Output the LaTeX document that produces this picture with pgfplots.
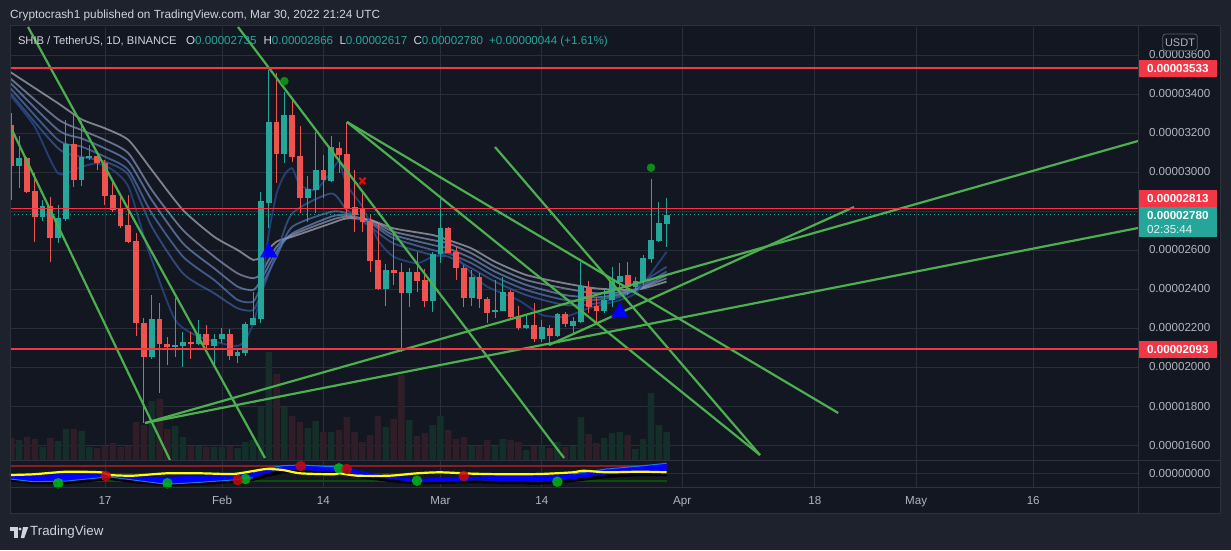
\documentclass[border=0pt]{standalone}
\usepackage{fontspec}
\setmainfont{Liberation Sans}
\usepackage{pgfplots}
\pgfplotsset{compat=1.18}
\usepackage{pgfplotstable}
\usetikzlibrary{plotmarks}

\definecolor{panebg}{HTML}{131722}
\definecolor{outerbg}{HTML}{1E222D}
\definecolor{gridc}{HTML}{2A2E39}
\definecolor{sepc}{HTML}{2E323D}
\definecolor{upc}{HTML}{26A69A}
\definecolor{dnc}{HTML}{EF5350}
\definecolor{trend}{HTML}{4CAF50}
\definecolor{lvl}{HTML}{F23645}
\definecolor{lblc}{HTML}{B2B5BE}
\definecolor{hdrc}{HTML}{D1D4DC}
\definecolor{volup}{HTML}{142F29}
\definecolor{voldn}{HTML}{2F1E28}
\definecolor{rA}{HTML}{B8BCC6}
\definecolor{rB}{HTML}{94A4C6}
\definecolor{rC}{HTML}{7694C8}
\definecolor{rD}{HTML}{5A7FC0}
\definecolor{rE}{HTML}{3E66AC}
\definecolor{rF}{HTML}{27498C}
\definecolor{gdot}{HTML}{0E8A16}
\definecolor{indred}{HTML}{8B1C24}
\definecolor{indgrn}{HTML}{0B4D0B}
\definecolor{indblue}{HTML}{0000FF}
\definecolor{indlb}{HTML}{2196F3}
\definecolor{indyel}{HTML}{FFFF00}
\definecolor{dotg}{HTML}{00B814}
\definecolor{dotr}{HTML}{C80A0A}

\newcommand{\lbfont}{\fontsize{11.6}{13}\selectfont}

% candles: d o h l c
\pgfplotstableread{
d o h l c
5 3031 3184 2916 3070
8 2771 2856 2750 2825
10 2663 2830 2634 2762
11 2757 3266 2750 3143
13 2959 3261 2928 3077
14 3073 3138 3061 3082
22 2053 2369 2040 2246
25 2101 2352 2053 2113
26 2109 2181 1998 2126
28 2118 2241 2113 2169
30 2109 2169 2010 2143
31 2143 2198 2121 2169
33 2056 2087 2019 2077
34 2073 2233 2056 2219
35 2215 2386 2215 2250
36 2246 2895 2224 2851
37 2843 3523 2711 3258
39 3092 3412 3044 3292
42 2868 2979 2745 2913
43 2907 3207 2788 3010
45 2955 3184 2950 3126
52 2400 2528 2315 2497
55 2381 2506 2306 2487
58 2340 2591 2284 2579
59 2579 2860 2535 2714
63 2356 2497 2315 2463
66 2280 2446 2253 2292
67 2289 2460 2285 2383
70 2202 2267 2195 2215
72 2144 2241 2130 2203
74 2161 2275 2152 2270
76 2212 2258 2173 2238
77 2233 2540 2224 2415
80 2289 2395 2275 2344
81 2344 2515 2309 2441
82 2438 2532 2369 2467
84 2412 2463 2378 2441
85 2438 2574 2421 2557
86 2554 2964 2532 2651
87 2648 2848 2643 2740
88 2735 2866 2617 2780
}\upT

\pgfplotstableread{
d o h l c
4 3241 3301 2856 3031
6 3070 3078 2890 2899
7 2902 2993 2643 2771
9 2825 2873 2540 2663
12 3143 3292 2924 2959
15 3082 3095 3010 3044
16 3044 3061 2830 2878
17 2882 2960 2796 2805
18 2808 2882 2711 2724
19 2730 2882 2634 2643
20 2646 2685 2159 2224
21 2224 2253 1713 2053
23 2246 2326 1867 2118
24 2118 2155 2010 2101
27 2126 2181 2040 2118
29 2169 2215 2087 2113
32 2169 2193 2036 2056
38 3258 3506 2942 3092
40 3292 3369 3053 3078
41 3082 3236 2788 2868
44 3010 3087 2865 2959
46 3121 3155 2993 3087
47 3092 3258 2771 2814
48 2819 3010 2694 2780
49 2814 2891 2694 2745
50 2750 2779 2489 2544
51 2549 2732 2395 2400
53 2497 2689 2420 2484
54 2487 2532 2079 2381
56 2487 2591 2386 2443
57 2446 2501 2309 2340
60 2714 2720 2583 2586
61 2591 2617 2446 2506
62 2506 2523 2309 2356
64 2463 2480 2301 2349
65 2349 2360 2224 2279
68 2383 2395 2241 2258
69 2261 2313 2190 2202
71 2215 2327 2130 2144
73 2202 2215 2113 2161
75 2270 2284 2207 2221
78 2409 2443 2275 2309
79 2313 2352 2233 2287
83 2472 2540 2369 2412
}\dnT

% volume (pane units)
\pgfplotstableread{
d v
5 20
8 13
10 19
11 31
13 29
14 13
22 59
25 34
26 23
28 14
30 13
31 13
33 12
34 18
35 20
36 53
37 108
39 53
42 32
43 39
45 28
52 33
55 40
58 35
59 44
63 14
66 14
67 21
70 10
72 14
74 18
76 14
77 43
80 22
81 27
82 28
84 11
85 21
86 67
87 35
88 28
}\volUp

\pgfplotstableread{
d v
4 22
6 23
7 21
9 22
12 31
15 12
16 14
17 17
18 13
19 14
20 38
21 35
23 61
24 31
27 14
29 13
32 14
38 86
40 44
41 38
44 28
46 30
47 43
48 28
49 18
50 25
51 44
53 41
54 85
56 24
57 27
60 30
61 21
62 23
64 14
65 20
68 20
69 18
71 14
73 12
75 13
78 26
79 17
83 25
}\volDn

\pgfplotsset{candle/.style={forget plot, only marks, mark=*, mark size=0pt,
  mark options={draw=none, fill=none},
  error bars/y dir=both, error bars/y explicit, error bars/error mark=none}}

\begin{document}
\begin{tikzpicture}
% backgrounds
\fill[outerbg] (0pt,0pt) rectangle (1231pt,550pt);
\fill[panebg] (10pt,37pt) rectangle (1220pt,524pt);

% grid + price labels
\begin{axis}[at={(10pt,90pt)}, anchor=south west, width=1128pt, height=433pt, scale only axis,
  xmin=3.821, xmax=148.436, ymin=1523.1, ymax=3743.6,
  axis line style={draw=none}, tick style={draw=none}, major tick length=0pt,
  xtick={16,31,44,59,72,90,107,120,135}, xticklabels={},
  ytick={1600,1800,2000,2200,2400,2600,2800,3000,3200,3400,3600},
  yticklabels={0.00001600,0.00001800,0.00002000,0.00002200,0.00002400,0.00002600,,0.00003000,0.00003200,0.00003400,0.00003600},
  yticklabel pos=right,
  yticklabel style={anchor=west, xshift=7.5pt, text=lblc, font=\lbfont},
  xmajorgrids, ymajorgrids, grid style={draw=gridc, line width=0.9pt}]
\addplot[draw=none, forget plot] coordinates {(10,2000)};
\end{axis}

% volume
\begin{axis}[at={(10pt,90pt)}, anchor=south west, width=1128pt, height=433pt, scale only axis,
  xmin=3.821, xmax=148.436, ymin=0, ymax=433, hide axis]
\addplot[ybar, bar width=6.4pt, bar shift=0pt, fill=volup, draw=none] table[x=d,y=v]{\volUp};
\addplot[ybar, bar width=6.4pt, bar shift=0pt, fill=voldn, draw=none] table[x=d,y=v]{\volDn};
\end{axis}

% price pane
\begin{axis}[at={(10pt,90pt)}, anchor=south west, width=1128pt, height=433pt, scale only axis,
  xmin=3.821, xmax=148.436, ymin=1523.1, ymax=3743.6, hide axis, clip=true]
% EMA ribbon
\addplot[rA, line width=1.8pt, opacity=0.65, smooth, tension=0.4] coordinates {(3.821,3515) (4,3509) (10,3352) (13,3270) (16,3224) (19,3164) (22,3010) (26,2805) (30,2668) (33,2600) (35,2549) (36,2566) (38,2643) (40,2668) (45,2737) (47,2762) (50,2754) (53,2711) (58,2677) (60,2651) (63,2608) (66,2540) (70,2472) (75,2429) (79,2403) (83,2395) (85,2403) (88,2438)};
\addplot[rB, line width=1.8pt, opacity=0.65, smooth, tension=0.4] coordinates {(3.821,3480) (4,3475) (10,3270) (13,3215) (16,3164) (19,3096) (22,2908) (26,2702) (30,2566) (33,2480) (35,2455) (36,2480) (38,2617) (40,2677) (45,2754) (47,2771) (50,2754) (53,2694) (58,2651) (60,2634) (63,2583) (66,2514) (70,2446) (75,2403) (79,2378) (83,2386) (85,2409) (88,2455)};
\addplot[rC, line width=1.8pt, opacity=0.65, smooth, tension=0.4] coordinates {(3.821,3455) (4,3451) (10,3215) (13,3172) (16,3121) (19,3053) (22,2856) (26,2634) (30,2506) (33,2412) (35,2395) (36,2446) (38,2591) (40,2685) (45,2771) (47,2779) (50,2745) (53,2677) (58,2626) (60,2608) (63,2557) (66,2489) (70,2421) (75,2369) (79,2357) (83,2381) (85,2412) (88,2472)};
\addplot[rD, line width=1.8pt, opacity=0.65, smooth, tension=0.4] coordinates {(3.821,3428) (4,3424) (10,3164) (13,3130) (16,3078) (19,3010) (22,2788) (26,2566) (30,2446) (33,2344) (35,2335) (36,2412) (38,2566) (40,2719) (45,2796) (47,2788) (50,2737) (53,2660) (58,2600) (60,2583) (63,2532) (66,2463) (70,2395) (75,2344) (79,2344) (83,2378) (85,2421) (88,2489)};
\addplot[rE, line width=1.8pt, opacity=0.65, smooth, tension=0.4] coordinates {(3.821,3402) (4,3398) (10,3121) (13,3078) (16,3053) (19,2985) (22,2720) (26,2480) (30,2378) (33,2301) (35,2292) (36,2378) (38,2583) (40,2788) (45,2890) (47,2805) (50,2720) (53,2634) (58,2574) (60,2566) (63,2506) (66,2438) (70,2369) (75,2318) (79,2326) (83,2374) (85,2438) (88,2514)};
\addplot[rF, line width=1.8pt, opacity=0.8, smooth, tension=0.4] coordinates {(3.821,3390) (4,3386) (7,3232) (10,2993) (13,3027) (15,3044) (17,3010) (19,2925) (21,2668) (22,2549) (25,2241) (28,2156) (31,2121) (33,2108) (34,2138) (35,2224) (36,2378) (37,2685) (38,2890) (39,2985) (40,3019) (41,2933) (43,2908) (45,3001) (46,3053) (47,2933) (49,2822) (51,2651) (53,2566) (56,2532) (58,2566) (60,2583) (61,2566) (63,2480) (65,2412) (69,2343) (72,2267) (75,2258) (78,2301) (82,2343) (84,2378) (86,2480) (88,2591)};
% candles: wicks then bodies
\addplot[candle, error bars/error bar style={draw=upc, line width=1pt}]
  table[x=d, y expr={(\thisrow{h}+\thisrow{l})/2}, y error expr={(\thisrow{h}-\thisrow{l})/2}] {\upT};
\addplot[candle, error bars/error bar style={draw=dnc, line width=1pt}]
  table[x=d, y expr={(\thisrow{h}+\thisrow{l})/2}, y error expr={(\thisrow{h}-\thisrow{l})/2}] {\dnT};
\addplot[candle, error bars/error bar style={draw=upc, line width=5.8pt}]
  table[x=d, y expr={(\thisrow{o}+\thisrow{c})/2}, y error expr={max(abs(\thisrow{c}-\thisrow{o})/2,3)}] {\upT};
\addplot[candle, error bars/error bar style={draw=dnc, line width=5.8pt}]
  table[x=d, y expr={(\thisrow{o}+\thisrow{c})/2}, y error expr={max(abs(\thisrow{c}-\thisrow{o})/2,3)}] {\dnT};
% current price dotted
\addplot[upc, line width=0.9pt, dash pattern=on 1pt off 3pt] coordinates {(3.821,2780) (148.436,2780)};
% trendlines
\addplot[trend, line width=2.2pt] coordinates {(6.13,3743.6) (36.51,1533.4)};
\addplot[trend, line width=2.2pt] coordinates {(4.08,3215.4) (24.33,1523.1)};
\addplot[trend, line width=2.2pt] coordinates {(33.05,3743.6) (74.85,1533.4)};
\addplot[trend, line width=2.2pt] coordinates {(47.03,3256.4) (99.97,1548.8)};
\addplot[trend, line width=2.2pt] coordinates {(47.03,3256.4) (110.0,1764.2)};
\addplot[trend, line width=2.2pt] coordinates {(66.0,3128.2) (99.97,1548.8)};
\addplot[trend, line width=2.2pt] coordinates {(21.13,1712.9) (148.44,3159)};
\addplot[trend, line width=2.2pt] coordinates {(21.13,1712.9) (148.44,2712.8)};
\addplot[trend, line width=2.2pt] coordinates {(72.92,2112.9) (112.03,2820.5)};
% horizontal levels
\addplot[lvl, line width=1.8pt] coordinates {(3.821,3533) (148.436,3533)};
\addplot[lvl, line width=1.8pt] coordinates {(3.821,2813) (148.436,2813)};
\addplot[lvl, line width=1.8pt] coordinates {(3.821,2093) (148.436,2093)};
% signals
\addplot[only marks, mark=*, mark size=4pt, color=gdot] coordinates {(39,3466) (86,3022)};
\addplot[only marks, mark=x, mark size=4.5pt, color=red, line width=2pt] coordinates {(49,2954)};
\addplot[only marks, mark=triangle*, mark size=9.5pt, color=indblue] coordinates {(37,2588) (82,2280)};
\end{axis}

% indicator pane
\begin{axis}[at={(10pt,63pt)}, anchor=south west, width=1128pt, height=27pt, scale only axis,
  xmin=3.821, xmax=148.436, ymin=0, ymax=27,
  axis line style={draw=none}, tick style={draw=none}, major tick length=0pt,
  xtick={16,31,44,59,72,90,107,120,135}, xticklabels={17,Feb,14,Mar,14,Apr,18,May,16},
  xticklabel style={text=lblc, font=\lbfont, yshift=-6pt},
  ytick={13.7}, yticklabels={0.00000000}, yticklabel pos=right,
  yticklabel style={anchor=west, xshift=7.5pt, text=lblc, font=\lbfont},
  xmajorgrids, ymajorgrids, grid style={draw=gridc, line width=0.9pt}, clip=true]
\addplot[indred, line width=2.6pt] coordinates {(3.821,21) (88,21)};
\addplot[indgrn, line width=2pt] coordinates {(3.821,6) (88,6)};
% black band
\addplot[fill=black, draw=none] coordinates {(3.821,8) (6.8,5.3) (11.1,6) (15.4,9.3) (16.6,10) (19.6,7) (23.9,2.7) (28.2,4.7) (32.4,7) (35,9.3) (36.7,13.7) (38.8,17) (41,17) (45.2,15.3) (46.1,18) (48.3,12) (52.5,8) (56,4.7) (59,5.3) (63.2,6.7) (67.5,6) (71.8,5.3) (76,8) (80.3,12.7) (84.6,14.7) (88,14.7)
 (88,11) (84.6,11) (80.3,9) (76,5) (71.8,2.5) (67.5,3) (63.2,4) (59,3) (56,2.5) (52.5,5) (48.3,9) (46.1,14) (45.2,12) (41,13.5) (38.8,13.5) (36.7,10) (35,6) (32.4,4) (28.2,2) (23.9,1) (19.6,4) (16.6,7) (15.4,6) (11.1,3) (6.8,3) (3.821,5.5)} -- cycle;
% blue band
\addplot[fill=indblue, draw=none] coordinates {(3.821,11.3) (6.8,11.3) (11.1,13.7) (15.4,12.7) (16.6,11.3) (19.6,10.3) (23.9,10.3) (28.2,11.3) (32.4,12.7) (35,14.7) (36.7,18.7) (38.8,21.3) (41,22) (45.2,20.3) (46.1,22) (48.3,17) (52.5,10.3) (56,8) (59,9.3) (63.2,10.3) (67.5,11.3) (71.8,11.3) (76,13) (80.3,18) (84.6,21) (88,23.7)
 (88,14.7) (84.6,14.7) (80.3,12.7) (76,8) (71.8,5.3) (67.5,6) (63.2,6.7) (59,5.3) (56,4.7) (52.5,8) (48.3,12) (46.1,18) (45.2,15.3) (41,17) (38.8,17) (36.7,13.7) (35,9.3) (32.4,7) (28.2,4.7) (23.9,2.7) (19.6,7) (16.6,10) (15.4,9.3) (11.1,6) (6.8,5.3) (3.821,8)} -- cycle;
\addplot[indlb, line width=1pt, opacity=0.8] coordinates {(3.821,8) (6.8,5.3) (11.1,6) (15.4,9.3) (16.6,10) (19.6,7) (23.9,2.7) (28.2,4.7) (32.4,7) (35,9.3)};
\addplot[indlb, line width=1pt, opacity=0.8] coordinates {(35,14.7) (36.7,18.7) (38.8,21.3) (41,22) (45.2,20.3) (46.1,22)};
\addplot[indlb, line width=1pt, opacity=0.8] coordinates {(76,13) (80.3,18) (84.6,21) (88,23.7)};
% yellow line
\addplot[indyel, line width=2.2pt, smooth, tension=0.4] coordinates {(3.821,12) (6.8,12.7) (11.1,15.3) (15.4,14.7) (16.6,12) (19.6,11.3) (23.9,13.7) (28.2,13.7) (32.4,13) (35,16) (36.7,18) (38.8,17) (41,13.7) (45.2,12.7) (46.1,13.7) (48.3,11.3) (52.5,11.3) (56,13.7) (59,14.7) (63.2,13.3) (67.5,12.7) (71.8,13) (76,14.7) (77.3,16.3) (80.3,14.7) (84.6,15.3) (88,14.7)};
% dots
\addplot[only marks, mark=*, mark size=5pt, color=dotg, opacity=0.85] coordinates {(10,3.7) (24,3.7) (34,8) (46,18.7) (56,6.3) (74,5.3)};
\addplot[only marks, mark=*, mark size=5pt, color=dotr, opacity=0.85] coordinates {(16.1,11) (33,7) (41.1,21) (47,18) (62,11)};
\end{axis}

% separators
\draw[sepc, line width=1pt] (10pt,524pt) -- (1220pt,524pt);
\draw[sepc, line width=1pt] (10pt,37pt) -- (1220pt,37pt);
\draw[sepc, line width=1pt] (10pt,37pt) -- (10pt,524pt);
\draw[sepc, line width=1pt] (1220pt,37pt) -- (1220pt,524pt);
\draw[sepc, line width=1pt] (1138.5pt,37pt) -- (1138.5pt,524pt);
\draw[sepc, line width=1.2pt] (10pt,89.5pt) -- (1220pt,89.5pt);
\draw[sepc, line width=1.2pt] (10pt,62.5pt) -- (1220pt,62.5pt);

% price scale boxes
\fill[lvl] (1139pt,473.3pt) rectangle (1217pt,490pt);
\node[anchor=west, inner sep=0pt, text=white, font=\lbfont\bfseries] at (1147pt,481.7pt) {0.00003533};
\fill[lvl] (1139pt,343.3pt) rectangle (1217pt,360pt);
\node[anchor=west, inner sep=0pt, text=white, font=\lbfont\bfseries] at (1147pt,351.7pt) {0.00002813};
\fill[upc] (1139pt,313pt) rectangle (1217pt,343pt);
\node[anchor=west, inner sep=0pt, text=white, font=\lbfont\bfseries] at (1147pt,334.3pt) {0.00002780};
\node[anchor=west, inner sep=0pt, text=white!85!upc, font=\lbfont] at (1147pt,320pt) {02:35:44};
\fill[lvl] (1139pt,192.3pt) rectangle (1217pt,209pt);
\node[anchor=west, inner sep=0pt, text=white, font=\lbfont\bfseries] at (1147pt,200.7pt) {0.00002093};
\draw[draw=sepc!80!white, rounded corners=3pt, line width=0.8pt, fill=panebg] (1162.7pt,499.3pt) rectangle (1197.3pt,516pt);
\node[text=lblc, font=\fontsize{11}{12}\selectfont, inner sep=0pt] at (1180pt,507.7pt) {USDT};

% header
\node[anchor=west, inner sep=0pt, text=hdrc, font=\fontsize{11.8}{14}\selectfont] at (10pt,535pt) {Cryptocrash1 published on TradingView.com, Mar 30, 2022 21:24 UTC};
\node[anchor=west, inner sep=0pt, text=hdrc, font=\fontsize{11.2}{13}\selectfont] at (17.8pt,509pt) {SHIB / TetherUS, 1D, BINANCE};
\node[anchor=west, inner sep=0pt, font=\lbfont] at (186pt,509pt) {\textcolor{hdrc}{O}\textcolor{upc}{0.00002735}};
\node[anchor=west, inner sep=0pt, font=\lbfont] at (263.3pt,509pt) {\textcolor{hdrc}{H}\textcolor{upc}{0.00002866}};
\node[anchor=west, inner sep=0pt, font=\lbfont] at (339.3pt,509pt) {\textcolor{hdrc}{L}\textcolor{upc}{0.00002617}};
\node[anchor=west, inner sep=0pt, font=\lbfont] at (413.3pt,509pt) {\textcolor{hdrc}{C}\textcolor{upc}{0.00002780}};
\node[anchor=west, inner sep=0pt, font=\lbfont, text=upc] at (489pt,509pt) {+0.00000044 (+1.61\%)};

% footer logo + text
\fill[hdrc] (10pt,19.5pt) rectangle (17.5pt,23pt);
\fill[hdrc] (13.8pt,12pt) rectangle (17.5pt,23pt);
\fill[hdrc] (20pt,21pt) circle (1.7pt);
\fill[hdrc] (23pt,23pt) -- (28.3pt,23pt) -- (24.2pt,12pt) -- (20.8pt,12pt) -- cycle;
\node[anchor=west, inner sep=0pt, text=hdrc, font=\fontsize{13.3}{15}\selectfont] at (30pt,18pt) {TradingView};
\end{tikzpicture}
\end{document}
